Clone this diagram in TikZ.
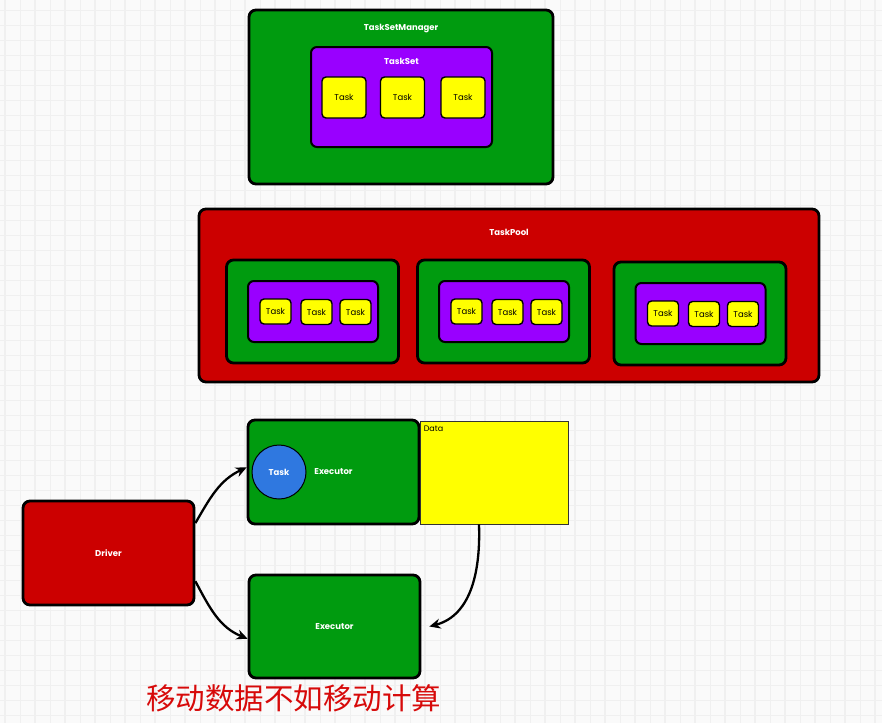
\documentclass[tikz,border=0pt]{standalone}
\usepackage{fontspec}
\setmainfont{Poppins}
\newfontfamily\cjk{Noto Sans CJK SC}
\usetikzlibrary{positioning,arrows.meta}
\definecolor{boxgreen}{RGB}{0,155,15}
\definecolor{boxred}{RGB}{204,0,0}
\definecolor{boxpurple}{RGB}{153,0,255}
\definecolor{taskyellow}{RGB}{255,255,0}
\definecolor{taskblue}{RGB}{47,120,224}
\definecolor{mottored}{RGB}{215,10,10}
\definecolor{paper}{RGB}{250,250,250}
\definecolor{gridline}{RGB}{240,240,240}

\begin{document}
\begin{tikzpicture}[x=1pt,y=1pt,
container/.style={draw=black, line width=2.8pt, rounded corners=7pt, inner sep=0pt, text=white, font=\fontsize{8.5}{10}\selectfont\bfseries},
greenbox/.style={container, fill=boxgreen},
redbox/.style={container, fill=boxred},
setbox/.style={draw=black, line width=2pt, rounded corners=6pt, fill=boxpurple, inner sep=0pt},
taskbox/.style={draw=black, line width=1.4pt, rounded corners=4pt, fill=taskyellow, inner sep=0pt, font=\fontsize{8.5}{10}\selectfont},
title/.style={text=white, font=\fontsize{8.5}{10}\selectfont\bfseries, inner sep=0pt},
flow/.style={-{Stealth[length=11pt,width=10pt]}, line width=2.3pt}]
% paper and grid
\fill[paper] (0,0) rectangle (882,-723);
\useasboundingbox (0,0) rectangle (882,-723);
\foreach \gx in {20,50,...,880} \draw[gridline, line width=0.6pt] (\gx,0) -- (\gx,-723);
\foreach \gx in {5,35,...,880} \draw[gridline, line width=1.3pt] (\gx,0) -- (\gx,-723);
\foreach \gy in {25.7,55.7,...,720} \draw[gridline, line width=0.6pt] (0,-\gy) -- (882,-\gy);
\foreach \gy in {10.7,40.7,...,720} \draw[gridline, line width=1.3pt] (0,-\gy) -- (882,-\gy);

% task set manager
\node[greenbox, minimum width=304pt, minimum height=174pt] (tsm) at (401,-97) {};
\node[title, below=15pt of tsm.north] (tsm-label) {TaskSetManager};
\node[setbox, minimum width=181pt, minimum height=100pt] (ts) at (401.5,-97) {};
\node[title, below=12pt of ts.north] (ts-label) {TaskSet};
\node[taskbox, minimum width=44pt, minimum height=41pt] (ts-t1) at (344,-97.5) {Task};
\node[taskbox, minimum width=44pt, minimum height=41pt] (ts-t2) at (402.5,-97.5) {Task};
\node[taskbox, minimum width=44pt, minimum height=41pt] (ts-t3) at (463,-97.5) {Task};

% task pool
\node[redbox, minimum width=620pt, minimum height=173pt] (pool) at (509,-295.5) {};
\node[title, below=21pt of pool.north] (pool-label) {TaskPool};
\foreach \gx/\gy [count=\g] in {312.5/311.5, 503.5/311.5, 700/313.5} {
  \node[greenbox, minimum width=172pt, minimum height=103pt] (grp\g) at (\gx,-\gy) {};
  \node[setbox, minimum width=130pt, minimum height=61pt] (set\g) at (\gx+0.5,-\gy) {};
  \node[taskbox, minimum width=31pt, minimum height=25pt] (task\g-1) at (\gx-37,-\gy) {Task};
  \node[taskbox, minimum width=31pt, minimum height=25pt] (task\g-2) at (\gx+4,-\gy-0.5) {Task};
  \node[taskbox, minimum width=31pt, minimum height=25pt] (task\g-3) at (\gx+43,-\gy-0.5) {Task};
}

% driver and executors
\node[greenbox, minimum width=171pt, minimum height=104pt] (exec1) at (333.5,-472) {Executor};
\node[circle, draw=black, line width=1pt, fill=taskblue, minimum size=54pt, inner sep=0pt, text=white, font=\fontsize{8.5}{10}\selectfont\bfseries] (exec1-task) at (279,-472) {Task};
\node[draw=black!80, line width=0.8pt, fill=taskyellow, minimum width=148pt, minimum height=103pt] (data) at (494,-472.5) {};
\node[anchor=north west, inner sep=0pt, font=\fontsize{8}{9}\selectfont] (data-label) at ([shift={(4pt,-5pt)}]data.north west) {Data};
\node[redbox, minimum width=171pt, minimum height=104pt] (driver) at (108.5,-553) {Driver};
\node[greenbox, minimum width=171pt, minimum height=103pt] (exec2) at (334.5,-626.5) {Executor};
\node[text=mottored, font=\cjk\fontsize{29.5}{31}\selectfont, inner sep=0pt] (motto) at (293.5,-698) {移动数据不如移动计算};

\draw[flow] (driver.19) to[out=60, in=205] (exec1.177);
\draw[flow] (driver.-18) to[out=-62, in=158] (exec2.188);
\draw[flow] ([xshift=-15pt]data.south) to[out=-88, in=15] ([xshift=8pt]exec2.east);
\end{tikzpicture}
\end{document}
